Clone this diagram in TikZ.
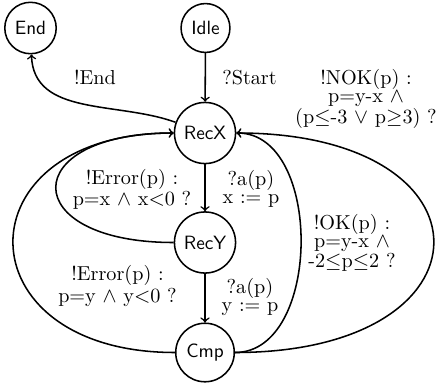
\documentclass[tikz,border=0pt]{standalone}
\begin{document}
\begin{tikzpicture}[x=0.52pt,y=-0.52pt,
  state/.style={circle,draw,thick,font=\sffamily,inner sep=0.3333em},
  lbl/.style={font=\fontsize{10.5}{9.2}\selectfont,align=center,inner sep=0pt},
  edge/.style={->,thick}]
\useasboundingbox (0,0) rectangle (439,388);
\node[state] (End)  at (30.5,28)   {End};
\node[state] (Idle) at (205.5,28)  {Idle};
\node[state] (RecX) at (205,133)   {RecX};
\node[state] (RecY) at (205,242.5) {RecY};
\node[state] (Cmp)  at (205,352.5) {Cmp};

\draw[edge] (Idle) -- (RecX);
\draw[edge] (RecX) -- (RecY);
\draw[edge] (RecY) -- (Cmp);
\draw[edge] (RecX) to[out=160,in=-88] (End);
\draw[edge] (RecY.west) .. controls +(-157,0) and +(-157,0) .. (RecX.west);
\draw[edge] (Cmp.west) .. controls +(-215,0) and +(-215,0) .. (RecX.west);
\draw[edge] (Cmp.east) .. controls +(87,0) and +(87,0) .. (RecX.east);
\draw[edge] (Cmp.east) .. controls +(264,0) and +(264,0) .. (RecX.east);

\node[lbl] (lEnd)   at (95,77)    {!End};
\node[lbl] (lStart) at (249.5,78) {?Start};
\node[lbl] (lNOK)   at (366,99)   {!NOK(p) :\\ p=y-x $\wedge$\\ (p$\leq$-3 $\vee$ p$\geq$3) ?};
\node[lbl] (lOK)    at (352,243)  {!OK(p) :\\ p=y-x $\wedge$\\ -2$\leq$p$\leq$2 ?};
\node[lbl] (lax)    at (251,189)  {?a(p)\\ x := p};
\node[lbl] (lay)    at (250,297)  {?a(p)\\ y := p};
\node[lbl] (lE1)    at (132,189)  {!Error(p) :\\ p=x $\wedge$ x$<$0 ?};
\node[lbl] (lE2)    at (117.5,286) {!Error(p) :\\ p=y $\wedge$ y$<$0 ?};
\end{tikzpicture}
\end{document}
